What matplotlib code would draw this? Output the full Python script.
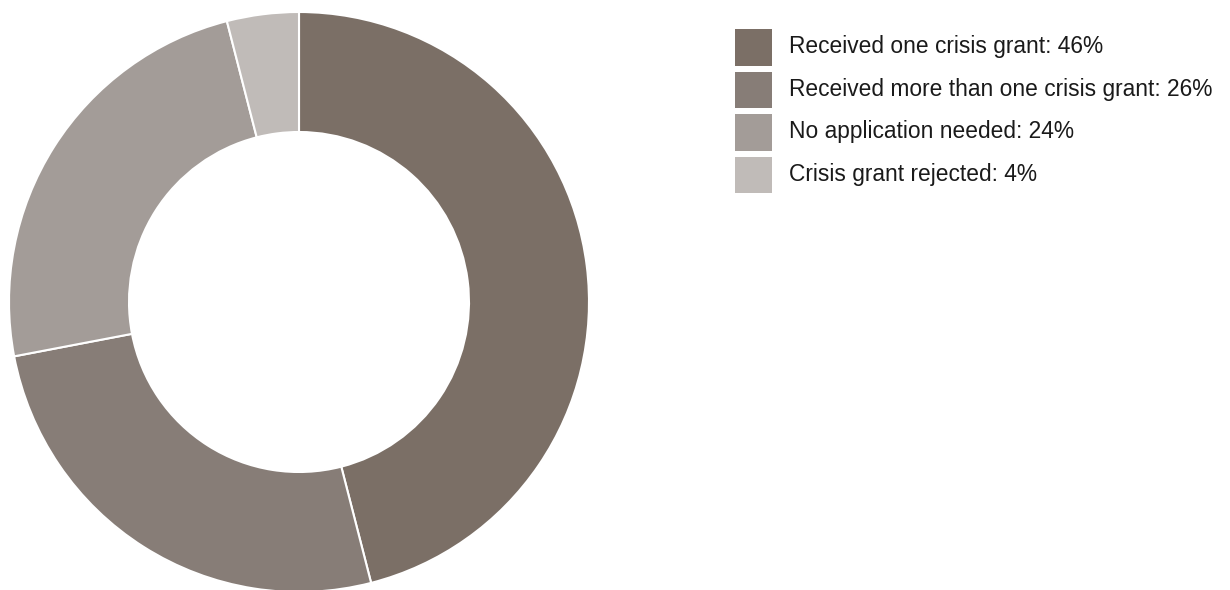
import matplotlib
matplotlib.use("Agg")
import matplotlib.pyplot as plt
from matplotlib.patches import Rectangle

categories = [
    "Received one crisis grant",
    "Received more than one crisis grant",
    "No application needed",
    "Crisis grant rejected",
]
shares = [46, 26, 24, 4]
colors = ["#7b6f66", "#877d77", "#a39c98", "#c0bbb8"]

W, H = 1230, 590
fig = plt.figure(figsize=(W / 100, H / 100), dpi=100)
fig.patch.set_facecolor("white")

# donut: centre (299, 302) px, outer radius 290 px
cx, cy, r = 299, 302, 290
ax = fig.add_axes([(cx - r) / W, (H - cy - r) / H, 2 * r / W, 2 * r / H])
ax.pie(
    shares,
    colors=colors,
    startangle=90,
    counterclock=False,
    radius=1.0,
    wedgeprops=dict(width=1 - 170 / 290, edgecolor="white", linewidth=1.5),
)
ax.set_xlim(-1, 1)
ax.set_ylim(-1, 1)
ax.set_aspect("equal")
ax.axis("off")

# legend drawn as swatches with labels
x0, sw, sh = 735, 37, 36.5
top0, pitch = 29.3, 42.5
base0 = 53.3
for i, (cat, val, col) in enumerate(zip(categories, shares, colors)):
    top = top0 + i * pitch
    fig.patches.append(
        Rectangle((x0 / W, (H - top - sh) / H), sw / W, sh / H,
                  transform=fig.transFigure, facecolor=col, edgecolor="none")
    )
    fig.text(789 / W, (H - base0 - i * pitch) / H, f"{cat}: {val}%",
             ha="left", va="baseline", fontsize=16.4,
             family="Liberation Sans", color="#1a1a1a")

fig.savefig("out.png", dpi=100)
